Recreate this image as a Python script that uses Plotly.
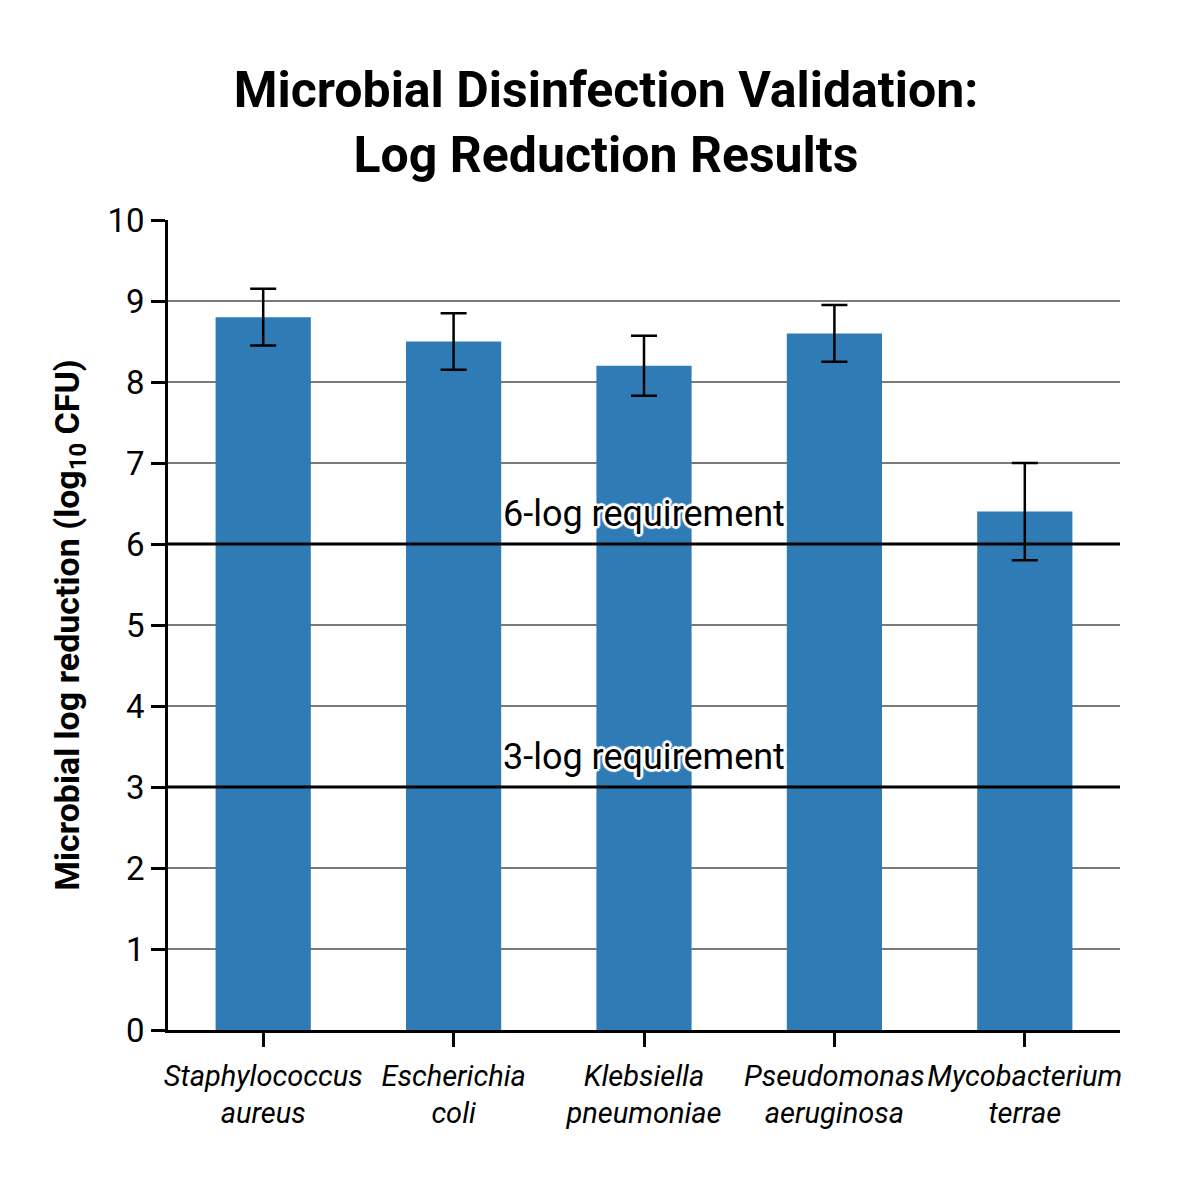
import plotly.graph_objects as go

categories = ["<i>Staphylococcus</i><br><i>aureus</i>", "<i>Escherichia</i><br><i>coli</i>",
              "<i>Klebsiella</i><br><i>pneumoniae</i>", "<i>Pseudomonas</i><br><i>aeruginosa</i>",
              "<i>Mycobacterium</i><br><i>terrae</i>"]
log_reduction = [8.8, 8.5, 8.2, 8.6, 6.4]
error_sd = [0.35, 0.35, 0.37, 0.35, 0.6]
requirements = [6, 3]
requirement_labels = ["6-log requirement", "3-log requirement"]
y_ticks = list(range(0, 11))

fig = go.Figure()
fig.add_trace(go.Bar(
    x=categories, y=log_reduction, width=0.5,
    marker=dict(color="#2f7bb6", line=dict(width=0)),
    error_y=dict(type="data", array=error_sd, visible=True, color="black", thickness=2.5, width=13),
))

halo = ("2px 2px 1px white, -2px -2px 1px white, 2px -2px 1px white, -2px 2px 1px white, "
        "0 3px 1px white, 0 -3px 1px white, 3px 0 1px white, -3px 0 1px white")
for r, lab in zip(requirements, requirement_labels):
    fig.add_shape(type="line", xref="paper", x0=0, x1=1, yref="y", y0=r, y1=r,
                  line=dict(color="black", width=3), layer="above")
    fig.add_annotation(x=0.5, xref="paper", y=r, yref="y", text=lab, showarrow=False,
                       yanchor="bottom", yshift=7,
                       font=dict(family="Roboto", size=36, color="black", shadow=halo))

fig.update_layout(
    width=1200, height=1200,
    paper_bgcolor="white", plot_bgcolor="white",
    margin=dict(l=168, r=80, t=220, b=170),
    title=dict(text="<b>Microbial Disinfection Validation:<br>Log Reduction Results</b>",
               x=0.505, xanchor="center", y=0.911, yanchor="middle",
               font=dict(family="Roboto", size=50, color="black")),
    font=dict(family="Roboto", color="black"),
    showlegend=False,
    bargap=0.5,
)
fig.update_yaxes(range=[0, 10], tickvals=y_ticks, showgrid=True, gridcolor="#7a7a7a", gridwidth=1.8,
                 showline=True, linecolor="black", linewidth=2.5, ticks="outside", ticklen=14,
                 tickwidth=2.5, tickcolor="black", tickfont=dict(size=33, family="Roboto"),
                 zeroline=False,
                 title=dict(text="<b>Microbial log reduction (log<sub>10</sub> CFU)</b>",
                            font=dict(size=34, family="Roboto"), standoff=18))
fig.update_xaxes(showline=True, linecolor="black", linewidth=2.5, ticks="outside", ticklen=14,
                 tickwidth=2.5, tickcolor="black", tickfont=dict(size=29, family="Roboto"),
                 ticklabelstandoff=4, showgrid=False)

fig.write_html("out.html")
